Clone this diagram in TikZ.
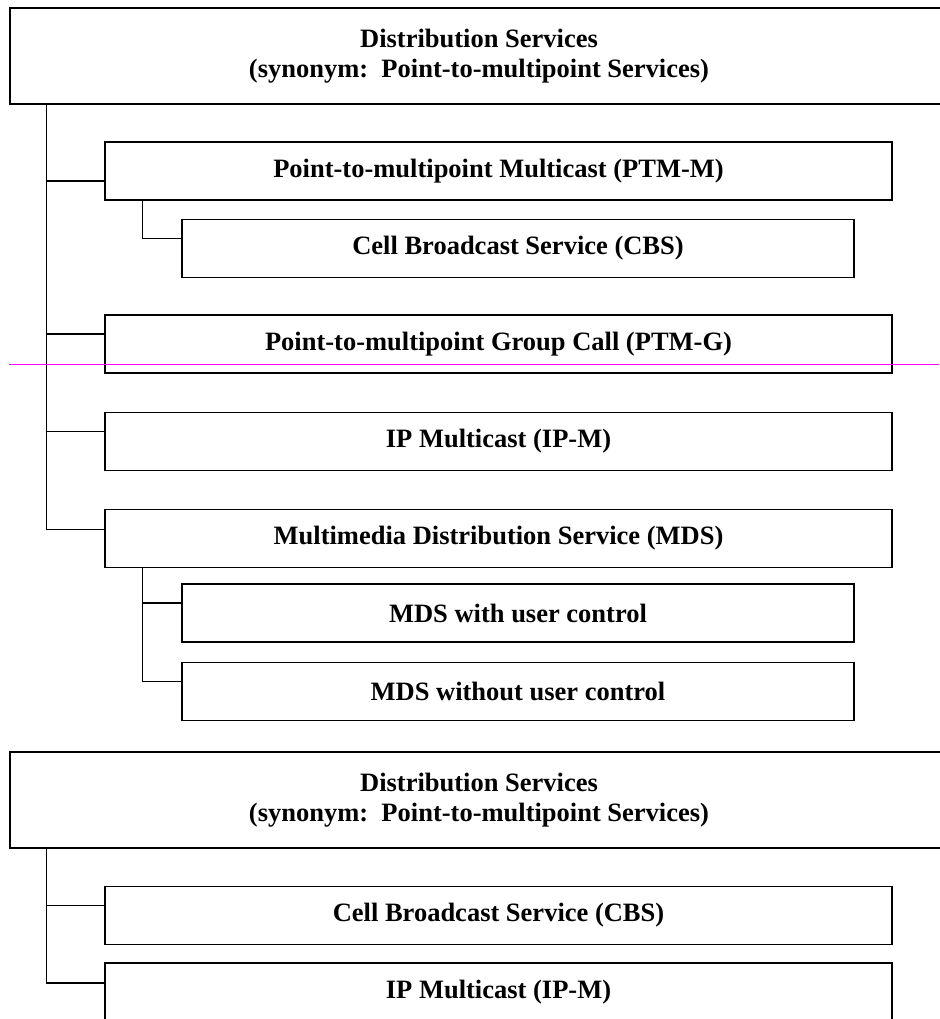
\documentclass[tikz,border=0pt]{standalone}
\usepackage{fontspec}
\setmainfont{Liberation Serif}
\usetikzlibrary{positioning}
\definecolor{markline}{RGB}{255,0,255}
\tikzset{
    topbox/.style={rectangle,draw,line width=1.2pt,minimum width=938pt,minimum height=96pt,inner sep=0pt,align=center,font=\bfseries\fontsize{26.5}{30}\selectfont},
    service/.style={rectangle,draw,line width=1.2pt,minimum width=787pt,minimum height=58pt,inner sep=0pt,font=\bfseries\fontsize{26.5}{30}\selectfont},
    subservice/.style={service,minimum width=672pt},
    link/.style={line width=1.2pt}
}

\begin{document}
\begin{tikzpicture}[x=1pt,y=-1pt]

                \useasboundingbox (0,0) rectangle (939,1019);

                % first tree
                \node[topbox]     (top1)   at (479,56)    {Distribution Services\\(synonym:~~Point-to-multipoint Services)};
                \node[service]    (ptmm)   at (498.5,171) {Point-to-multipoint Multicast (PTM-M)};
                \node[subservice] (cbs)    at (518,248.5) {Cell Broadcast Service (CBS)};
                \node[service]    (ptmg)   at (498.5,344) {Point-to-multipoint Group Call (PTM-G)};
                \node[service]    (ipm)    [below=38pt of ptmg]  {IP Multicast (IP-M)};
                \node[service]    (mds)    [below=38pt of ipm]   {Multimedia Distribution Service (MDS)};
                \node[subservice] (mdsuc)  at (518,613)   {MDS with user control};
                \node[subservice] (mdsnuc) [below=19pt of mdsuc] {MDS without user control};

                \draw[link] ([xshift=37pt]top1.south west) coordinate (trunk) |- ([yshift=9pt]mds.west);
                \foreach \n/\s in {ptmm/-10,ptmg/10,ipm/10}
                    \draw[link] ([yshift=\s pt]\n.west) -- ([yshift=\s pt]\n.west -| trunk);
                \draw[link] ([xshift=38pt]ptmm.south west) |- ([yshift=10pt]cbs.west);
                \draw[link] ([xshift=38pt]mds.south west) coordinate (mtrunk) |- ([yshift=10pt]mdsnuc.west);
                \draw[link] ([yshift=10pt]mdsuc.west) -- ([yshift=10pt]mdsuc.west -| mtrunk);

                % marker line
                \coordinate (mark1) at (9,364);
                \coordinate (mark2) at (939,364);
                \draw[markline,line width=0.9pt] (mark1) -- (mark2);

                % second tree
                \node[topbox]     (top2)   at (479,800)   {Distribution Services\\(synonym:~~Point-to-multipoint Services)};
                \node[service]    (cbs2)   at (498.5,915.5) {Cell Broadcast Service (CBS)};
                \node[service]    (ipm2)   at (498.5,992) {IP Multicast (IP-M)};

                \draw[link] ([xshift=37pt]top2.south west) coordinate (trunk2) |- ([yshift=9pt]ipm2.west);
                \draw[link] ([yshift=10pt]cbs2.west) -- ([yshift=10pt]cbs2.west -| trunk2);

            \end{tikzpicture}
\end{document}
